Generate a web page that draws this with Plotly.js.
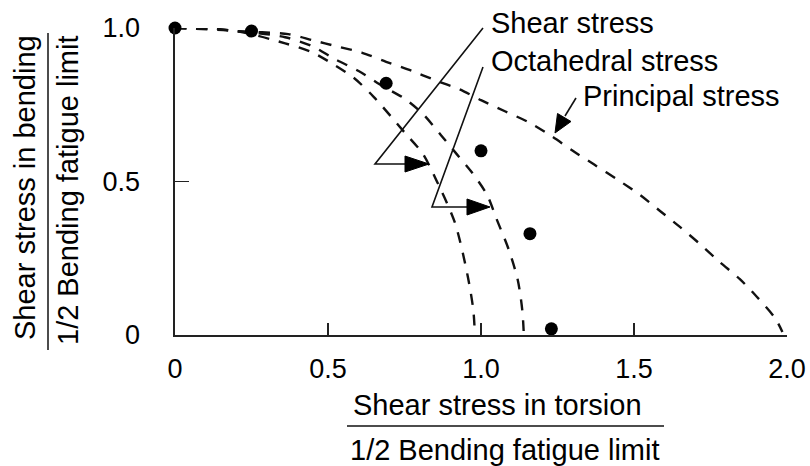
<!DOCTYPE html>
<html>
<head>
<meta charset="utf-8">
<script src="https://cdn.plot.ly/plotly-3.0.1.min.js"></script>
<style>html,body{margin:0;padding:0;background:#fff;}#chart{width:810px;height:466px;}</style>
</head>
<body>
<div id="chart"></div>
<script>
// ---- data ----
const shearX = [0, 0.2, 0.36, 0.45, 0.52, 0.585, 0.65, 0.75, 0.81, 0.856, 0.915, 0.957, 0.975, 0.98];
const shearY = [1.0, 0.99, 0.95, 0.92, 0.88, 0.837, 0.775, 0.66, 0.59, 0.50, 0.365, 0.19, 0.08, 0.0];

const octaX = [0, 0.2, 0.36, 0.45, 0.52, 0.60, 0.68, 0.75, 0.81, 0.87, 0.92, 0.97, 1.02, 1.05, 1.09, 1.12, 1.135, 1.14];
const octaY = [1.0, 0.99, 0.97, 0.94, 0.90, 0.86, 0.81, 0.77, 0.72, 0.65, 0.59, 0.53, 0.456, 0.38, 0.28, 0.18, 0.08, 0.0];

const princX = [0, 0.11, 0.2, 0.37, 0.45, 0.53, 0.61, 0.69, 0.775, 0.85, 0.93, 1.0, 1.08, 1.154, 1.23, 1.30, 1.37, 1.448, 1.52, 1.585, 1.65, 1.716, 1.78, 1.846, 1.902, 1.961, 1.985];
const princY = [1.0, 1.0, 0.99, 0.98, 0.96, 0.94, 0.92, 0.89, 0.86, 0.83, 0.80, 0.765, 0.728, 0.694, 0.648, 0.60, 0.555, 0.505, 0.456, 0.404, 0.352, 0.296, 0.238, 0.182, 0.124, 0.055, 0.01];

const testX = [0, 0.25, 0.69, 1.0, 1.16, 1.23];
const testY = [1.0, 0.99, 0.82, 0.60, 0.33, 0.02];

const xTickVals = [0, 0.5, 1.0, 1.5, 2.0];
const xTickText = ['0', '0.5', '1.0', '1.5', '2.0'];
const yTickVals = [0, 0.5, 1.0];
const yTickText = ['0', '0.5', '1.0'];

const curveNames = ['Shear stress', 'Octahedral stress', 'Principal stress'];
const xTitle = ['Shear stress in torsion', '1/2 Bending fatigue limit'];
const yTitle = ['Shear stress in bending', '1/2 Bending fatigue limit'];

// ---- layout geometry ----
const W = 810, H = 466;
const L = 175, R = 23, T = 28, B = 131;
const PW = W - L - R, PH = H - T - B;
const FONT = 'Liberation Sans, Arial, Helvetica, sans-serif';

// pixel -> paper helpers (for decorations only)
const px = v => (v - L) / PW;
const py = v => (H - B - v) / PH;
function path(pts, close) {
  return pts.map((p, i) => (i ? 'L' : 'M') + px(p[0]).toFixed(5) + ',' + py(p[1]).toFixed(5)).join(' ') + (close ? ' Z' : '');
}

const dashStyle = '11px,10px';
const curveLine = {color: '#111', width: 2.4, dash: dashStyle, shape: 'spline', smoothing: 0.8};
const traces = [
  {x: shearX, y: shearY, name: curveNames[0], mode: 'lines', line: curveLine, cliponaxis: false},
  {x: octaX, y: octaY, name: curveNames[1], mode: 'lines', line: curveLine, cliponaxis: false},
  {x: princX, y: princY, name: curveNames[2], mode: 'lines', line: curveLine, cliponaxis: false},
  {x: testX, y: testY, name: 'Tests', mode: 'markers', marker: {color: '#000', size: 13}, cliponaxis: false}
];

const lineStyle = {color: '#111', width: 1.6};
const headLine = {color: '#000', width: 1};
const shapes = [
  // leader for Shear stress
  {type: 'path', xref: 'paper', yref: 'paper', path: path([[483, 28], [375, 164], [410, 164]]), line: lineStyle},
  {type: 'path', xref: 'paper', yref: 'paper', path: path([[429, 164], [405, 156], [405, 172]], true), line: headLine, fillcolor: '#000'},
  // leader for Octahedral stress
  {type: 'path', xref: 'paper', yref: 'paper', path: path([[483, 67], [432, 207], [470, 207]]), line: lineStyle},
  {type: 'path', xref: 'paper', yref: 'paper', path: path([[490, 207], [467, 199], [467, 215]], true), line: headLine, fillcolor: '#000'},
  // leader for Principal stress
  {type: 'path', xref: 'paper', yref: 'paper', path: path([[576, 98], [565, 116]]), line: lineStyle},
  {type: 'path', xref: 'paper', yref: 'paper', path: path([[555, 133], [557.5, 113.5], [571, 121.5]], true), line: headLine, fillcolor: '#000'},
  // fraction bars of the axis titles
  {type: 'line', xref: 'paper', yref: 'paper', x0: px(347), x1: px(664), y0: py(426), y1: py(426), line: {color: '#111', width: 1.5}},
  {type: 'line', xref: 'paper', yref: 'paper', x0: px(48), x1: px(48), y0: py(33), y1: py(350), line: {color: '#111', width: 1.5}}
];

const tf = {family: FONT, size: 29, color: '#000'};
const annotations = [
  {text: curveNames[0], xref: 'paper', yref: 'paper', x: px(489), y: py(23), xanchor: 'left', yanchor: 'middle', showarrow: false, font: tf},
  {text: curveNames[1], xref: 'paper', yref: 'paper', x: px(489), y: py(61), xanchor: 'left', yanchor: 'middle', showarrow: false, font: tf},
  {text: curveNames[2], xref: 'paper', yref: 'paper', x: px(581), y: py(96), xanchor: 'left', yanchor: 'middle', showarrow: false, font: tf},
  {text: xTitle[0], xref: 'paper', yref: 'paper', x: px(497), y: py(405), xanchor: 'center', yanchor: 'middle', showarrow: false, font: tf},
  {text: xTitle[1], xref: 'paper', yref: 'paper', x: px(505), y: py(450), xanchor: 'center', yanchor: 'middle', showarrow: false, font: tf},
  {text: yTitle[0], xref: 'paper', yref: 'paper', x: px(25), y: py(188), xanchor: 'center', yanchor: 'middle', textangle: -90, showarrow: false, font: tf},
  {text: yTitle[1], xref: 'paper', yref: 'paper', x: px(68), y: py(190), xanchor: 'center', yanchor: 'middle', textangle: -90, showarrow: false, font: tf}
];

const axisCommon = {
  showgrid: false, zeroline: false, showline: true, linecolor: '#222', linewidth: 1.6,
  ticks: 'inside', tickcolor: '#222', tickwidth: 1.3, tickmode: 'array',
  tickfont: {family: FONT, size: 27, color: '#000'}, fixedrange: true
};

const layout = {
  width: W, height: H, autosize: false,
  margin: {l: L, r: R, t: T, b: B, pad: 0},
  paper_bgcolor: '#fff', plot_bgcolor: '#fff',
  showlegend: false,
  xaxis: Object.assign({}, axisCommon, {range: [0, 2], tickvals: xTickVals, ticktext: xTickText, ticklen: 12, ticklabelstandoff: 9}),
  yaxis: Object.assign({}, axisCommon, {range: [0, 1], tickvals: yTickVals, ticktext: yTickText, ticklen: 14, ticklabelstandoff: 28}),
  shapes: shapes,
  annotations: annotations
};

Plotly.newPlot('chart', traces, layout, {staticPlot: true, displayModeBar: false});
</script>
</body>
</html>
